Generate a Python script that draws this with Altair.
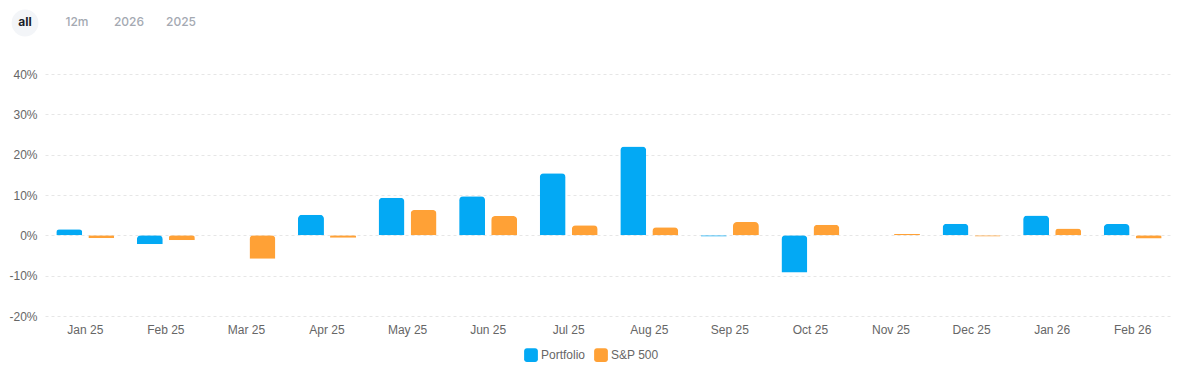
import altair as alt
import pandas as pd

months = ["Jan 25", "Feb 25", "Mar 25", "Apr 25", "May 25", "Jun 25", "Jul 25",
          "Aug 25", "Sep 25", "Oct 25", "Nov 25", "Dec 25", "Jan 26", "Feb 26"]
portfolio = [1.5, -2.2, 0.0, 5.1, 9.3, 9.7, 15.4, 22.0, -0.3, -9.2, 0.0, 2.9, 4.9, 2.8]
sp500 = [-0.7, -1.2, -5.8, -0.6, 6.3, 4.8, 2.5, 2.0, 3.3, 2.6, 0.3, -0.3, 1.7, -0.8]
series = ["Portfolio", "S&P 500"]
colors = ["#03a9f4", "#ffa136"]
y_ticks = [-20, -10, 0, 10, 20, 30, 40]

buttons = ["all", "12m", "2026", "2025"]
active_button = "all"

rows = []
for m, p, s in zip(months, portfolio, sp500):
    rows.append({"month": m, "series": series[0], "value": p})
    rows.append({"month": m, "series": series[1], "value": s})
df = pd.DataFrame(rows)

bdf = pd.DataFrame({"label": buttons, "active": [b == active_button for b in buttons]})

FONT = "Liberation Sans"

bx = alt.X("label:N", sort=buttons, axis=None,
           scale=alt.Scale(type="point", padding=0, range=[-20, 136]))
btn_circle = alt.Chart(bdf).transform_filter("datum.active").mark_point(
    filled=True, shape="circle", size=720, color="#f3f5f8", opacity=1
).encode(x=bx, y=alt.value(15))
btn_active = alt.Chart(bdf).transform_filter("datum.active").mark_text(
    font="Inter", fontSize=12, baseline="middle", fontWeight="bold", color="#1b1f2b"
).encode(x=bx, y=alt.value(14), text="label:N")
btn_other = alt.Chart(bdf).transform_filter("!datum.active").mark_text(
    font="Inter", fontSize=12, baseline="middle", fontWeight=500, color="#a4a9b2"
).encode(x=bx, y=alt.value(14), text="label:N")
top = alt.layer(btn_circle, btn_active, btn_other).properties(width=186, height=30)

bars = alt.Chart(df).mark_bar(cornerRadiusEnd=4).encode(
    x=alt.X("month:N", sort=months, title=None,
            scale=alt.Scale(paddingInner=0.28, paddingOuter=0.14),
            axis=alt.Axis(labelAngle=0, labelColor="#666666", labelFont=FONT,
                          labelFontSize=12, domain=False, ticks=False, labelPadding=8,
                          grid=False)),
    xOffset=alt.XOffset("series:N", sort=series,
                        scale=alt.Scale(paddingInner=0.19, paddingOuter=0)),
    y=alt.Y("value:Q", title=None,
            scale=alt.Scale(domain=[-20, 40], nice=False, zero=False),
            axis=alt.Axis(values=y_ticks, labelExpr="datum.value + '%'",
                          labelColor="#666666", labelFont=FONT, labelFontSize=12,
                          domain=False, ticks=False, labelPadding=8,
                          grid=True, gridColor="#e6e6e6", gridDash=[3, 3])),
    color=alt.Color("series:N", sort=series,
                    scale=alt.Scale(domain=series, range=colors),
                    legend=alt.Legend(title=None, orient="none", direction="horizontal",
                                      legendX=479, legendY=340,
                                      labelColor="#666666", labelFont=FONT, labelFontSize=12,
                                      symbolType="M-1,-0.6 A0.4,0.4 0 0 1 -0.6,-1 L0.6,-1 A0.4,0.4 0 0 1 1,-0.6 L1,0.6 A0.4,0.4 0 0 1 0.6,1 L-0.6,1 A0.4,0.4 0 0 1 -1,0.6 Z",
                                      symbolSize=190, symbolStrokeWidth=0, symbolOpacity=1,
                                      labelOffset=3, columnPadding=8)),
).properties(width=1128, height=242)

chart = alt.vconcat(top, bars, spacing=30).properties(
    padding={"left": 0, "top": 0, "right": 0, "bottom": 0},
    background="white",
).configure_view(stroke=None)

chart.save("out.html", embed_options={"renderer": "svg", "actions": False})
